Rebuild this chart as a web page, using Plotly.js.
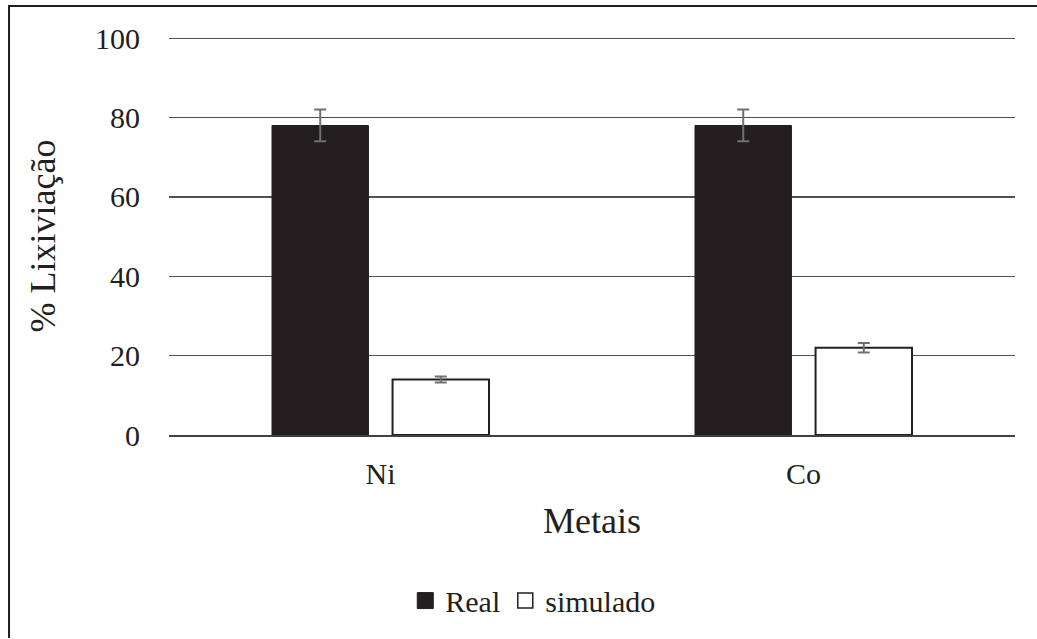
<!DOCTYPE html>
<html>
<head>
<meta charset="utf-8">
<script src="https://cdn.plot.ly/plotly-3.0.1.min.js"></script>
<style>html,body{margin:0;padding:0;background:#fff;}#chart{width:1037px;height:639px;}</style>
</head>
<body>
<div id="chart"></div>
<script>
const categories = ["Ni", "Co"];
const realValues = [78, 78];
const realErrors = [4, 4];
const simValues = [14, 22];
const simErrors = [0.75, 1.2];
const yTicks = [0, 20, 40, 60, 80, 100];
const seriesNames = ["Real", "simulado"];

const serif = "Liberation Serif";
const ink = "#231f20";

const traces = [
  {
    type: "bar", name: seriesNames[0], x: categories, y: realValues, showlegend: false,
    marker: {color: ink, line: {color: ink, width: 1}},
    error_y: {type: "data", array: realErrors, visible: true, color: "#707070", thickness: 2, width: 6}
  },
  {
    type: "bar", name: seriesNames[1], x: categories, y: simValues, showlegend: false,
    marker: {color: "#ffffff", line: {color: ink, width: 2}},
    error_y: {type: "data", array: simErrors, visible: true, color: "#707070", thickness: 2, width: 6}
  },
  {
    type: "scatter", mode: "markers", name: seriesNames[0], x: [null], y: [null],
    marker: {symbol: "square", size: 17, color: ink, line: {color: ink, width: 1}}
  },
  {
    type: "scatter", mode: "markers", name: seriesNames[1], x: [null], y: [null],
    marker: {symbol: "square", size: 15, color: "#ffffff", line: {color: ink, width: 1.5}}
  }
];

const layout = {
  width: 1037, height: 639,
  margin: {l: 169, r: 22, t: 37, b: 202},
  paper_bgcolor: "#fff", plot_bgcolor: "#fff",
  font: {family: serif, color: ink, size: 30},
  barmode: "group",
  bargap: 0.43,
  bargroupgap: 0.2,
  showlegend: true,
  legend: {orientation: "h", x: 0.43, xanchor: "center", y: -0.416, yanchor: "middle",
           font: {family: serif, size: 30, color: ink}, traceorder: "normal",
           itemwidth: 30, tracegroupgap: 0},
  xaxis: {
    type: "category", showgrid: false, zeroline: false,
    showline: true, linecolor: "#404040", linewidth: 1.5,
    ticks: "", ticklabelstandoff: 11,
    tickfont: {family: serif, size: 30, color: ink},
    title: {text: "Metais", font: {family: serif, size: 36, color: ink}, standoff: 19}
  },
  yaxis: {
    range: [0, 100.3], tickvals: yTicks, ticktext: yTicks.map(String),
    showgrid: true, gridcolor: "#505050", gridwidth: 1.2,
    zeroline: false, showline: false,
    ticks: "", ticklabelstandoff: 28,
    tickfont: {family: serif, size: 30, color: ink},
    title: {text: "% Lixiviação", font: {family: serif, size: 36, color: ink}, standoff: 28}
  },
  shapes: [
    {type: "path", xref: "paper", yref: "paper",
     path: "M -0.1891,-0.51 L -0.1891,1.0777 L 1.03,1.0777",
     line: {color: ink, width: 2}}
  ]
};

Plotly.newPlot("chart", traces, layout, {displayModeBar: false, staticPlot: true});
</script>
</body>
</html>
